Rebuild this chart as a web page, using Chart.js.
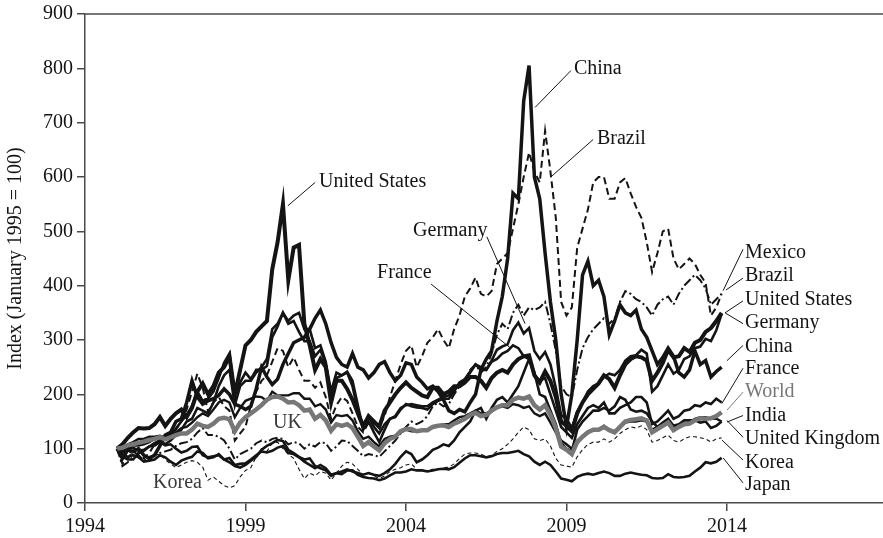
<!DOCTYPE html>
<html>
<head>
<meta charset="utf-8">
<title>Stock market indices, January 1995 = 100</title>
<script src="https://cdn.jsdelivr.net/npm/chart.js@4.4.1/dist/chart.umd.min.js"></script>
<style>
  html, body { margin: 0; padding: 0; background: #fff; }
  #wrap { width: 883px; height: 538px; }
</style>
</head>
<body>
<div id="wrap"><canvas id="index_chart" width="883" height="538"></canvas></div>
<script>
// one value every two months, Jan 1995 .. Nov 2013 (one row = one year)
const startYear = 1995;
const pointsPerYear = 6;
const xTicks = [1994, 1999, 2004, 2009, 2014];
const yTicks = [0, 100, 200, 300, 400, 500, 600, 700, 800, 900];

const world = [
  100, 102, 106, 108, 111, 113,
  116, 118, 121, 117, 121, 125,
  128, 128, 135, 146, 142, 140,
  146, 155, 157, 154, 132, 148,
  158, 165, 172, 180, 190, 195,
  196, 192, 185, 186, 180, 170,
  172, 155, 162, 152, 133, 145,
  142, 145, 138, 122, 105, 112,
  104, 97, 110, 118, 122, 132,
  136, 136, 132, 134, 134, 140,
  142, 143, 140, 146, 150, 155,
  162, 166, 160, 162, 170, 176,
  180, 180, 190, 194, 192, 196,
  180, 172, 180, 162, 138, 104,
  98, 90, 112, 122, 130, 135,
  135, 140, 134, 130, 140, 150,
  153, 154, 156, 152, 130, 136,
  142, 148, 134, 140, 145, 146,
  152, 156, 155, 156, 160, 167
];
const unitedStates = [
  100, 108, 120, 130, 138, 137,
  138, 145, 158, 142, 155, 165,
  172, 158, 175, 205, 220, 200,
  215, 240, 250, 270, 200, 245,
  290, 300, 315, 325, 335, 430,
  480, 550, 410, 470, 475, 330,
  290, 245, 265, 250, 185, 225,
  225, 210, 190, 165, 140, 160,
  150, 140, 170, 185, 200, 212,
  222, 212, 205, 198, 195, 212,
  212, 200, 205, 215, 215, 222,
  232, 232, 225, 212, 230, 240,
  245, 240, 255, 265, 270, 272,
  235, 222, 242, 225, 195, 150,
  142, 132, 165, 185, 200, 210,
  220, 235, 228, 212, 235, 255,
  265, 270, 268, 262, 225, 240,
  258, 282, 268, 270, 285, 278,
  295, 300, 315, 322, 335, 350
];
const china = [
  100, 82, 98, 95, 100, 88,
  82, 88, 105, 125, 130, 150,
  155, 185, 225, 195, 182, 188,
  192, 198, 210, 200, 182, 178,
  172, 178, 210, 250, 232, 218,
  228, 255, 275, 295, 300, 305,
  320, 340, 355, 330, 295, 268,
  255, 250, 275, 250, 245, 230,
  240, 255, 260, 240, 225, 235,
  258, 255, 232, 222, 210, 215,
  205, 190, 170, 165, 172, 168,
  185, 200, 245, 265, 280, 335,
  380, 450, 570, 560, 740, 805,
  600, 560, 460, 370, 300, 200,
  140, 200, 300, 420, 445, 400,
  410, 380, 310, 335, 365, 350,
  345, 355, 320, 305, 280, 255,
  268, 285, 270, 240, 232, 245,
  280, 255, 262, 232, 242, 250
];
const brazil = [
  100, 72, 82, 95, 88, 82,
  92, 108, 118, 122, 125, 135,
  150, 172, 205, 238, 212, 168,
  185, 195, 178, 170, 115, 128,
  140, 180, 205, 225, 235, 260,
  285, 280, 250, 268, 245, 225,
  225, 212, 222, 195, 155, 180,
  195, 188, 165, 140, 130, 148,
  148, 140, 160, 195, 225, 255,
  280, 290, 250, 270, 295, 305,
  320, 300, 285, 320, 345, 380,
  395, 415, 385, 380, 390, 440,
  450, 460, 505, 550, 600, 645,
  610, 590, 685, 610, 525, 370,
  345, 360, 470, 505, 540, 590,
  600, 600, 560, 560, 590, 598,
  570, 545, 525, 480, 425, 460,
  500, 505, 450, 430, 440, 450,
  440, 420, 405, 345, 360, 385
];
const mexico = [
  100, 68, 75, 85, 88, 78,
  85, 88, 92, 95, 98, 105,
  110, 112, 118, 130, 138, 125,
  125, 122, 115, 100, 80, 90,
  95, 100, 110, 115, 112, 118,
  120, 118, 108, 112, 110, 100,
  108, 104, 112, 110, 96, 104,
  115, 114, 105, 96, 86, 90,
  88, 85, 95, 105, 115, 128,
  140, 150, 145, 150, 160, 178,
  185, 178, 182, 200, 215, 225,
  245, 255, 240, 250, 275, 310,
  330, 320, 350, 365, 345, 360,
  355, 360, 370, 330, 280, 215,
  200, 195, 245, 285, 305, 320,
  330, 340, 330, 340, 370, 390,
  385, 375, 370, 360, 345, 365,
  375, 380, 365, 385, 400, 410,
  420, 410, 395, 365, 375, 385
];
const germany = [
  100, 95, 102, 106, 106, 108,
  112, 118, 122, 120, 126, 137,
  150, 162, 178, 205, 188, 192,
  205, 230, 258, 275, 200, 222,
  240, 228, 245, 245, 252, 305,
  325, 350, 330, 335, 315, 298,
  298, 270, 282, 255, 198, 230,
  235, 242, 225, 180, 135, 150,
  130, 112, 135, 155, 158, 172,
  182, 178, 176, 175, 172, 182,
  188, 192, 192, 205, 222, 228,
  242, 255, 250, 245, 262, 282,
  288, 292, 318, 332, 312, 322,
  280, 265, 278, 255, 212, 162,
  155, 138, 168, 185, 205, 215,
  220, 232, 238, 235, 245, 262,
  270, 272, 282, 275, 205, 215,
  235, 255, 238, 245, 265, 270,
  285, 288, 302, 298, 318, 348
];
const france = [
  100, 94, 100, 102, 96, 98,
  104, 110, 115, 108, 115, 125,
  135, 150, 155, 175, 170, 165,
  185, 215, 235, 245, 180, 215,
  225, 225, 240, 250, 265, 320,
  330, 350, 335, 345, 350, 320,
  320, 285, 290, 260, 205, 240,
  235, 240, 215, 170, 145, 160,
  140, 128, 145, 155, 160, 175,
  180, 182, 180, 178, 178, 185,
  190, 195, 198, 208, 220, 225,
  240, 255, 245, 245, 260, 265,
  275, 280, 290, 285, 270, 265,
  235, 225, 230, 200, 170, 140,
  130, 120, 145, 160, 175, 180,
  175, 185, 165, 165, 175, 180,
  185, 195, 195, 185, 145, 150,
  160, 170, 155, 160, 170, 172,
  180, 178, 185, 182, 192, 185
];
const unitedKingdom = [
  100, 101, 108, 112, 118, 118,
  122, 122, 124, 120, 126, 130,
  138, 140, 148, 158, 165, 160,
  172, 185, 190, 185, 158, 175,
  188, 192, 196, 195, 188, 205,
  198, 198, 198, 202, 202, 192,
  192, 178, 182, 172, 148, 162,
  160, 162, 152, 132, 118, 122,
  112, 104, 118, 122, 124, 130,
  135, 132, 132, 133, 133, 140,
  142, 145, 145, 152, 158, 160,
  165, 170, 165, 165, 170, 175,
  178, 175, 182, 180, 175, 178,
  165, 160, 165, 148, 130, 115,
  108, 100, 115, 122, 132, 135,
  135, 142, 135, 132, 140, 148,
  150, 150, 152, 150, 135, 140,
  145, 148, 138, 142, 146, 148,
  155, 158, 158, 155, 155, 150
];
const india = [
  100, 90, 85, 88, 84, 76,
  78, 80, 88, 84, 76, 70,
  78, 82, 85, 95, 92, 82,
  84, 90, 80, 75, 68, 65,
  70, 78, 85, 98, 105, 110,
  116, 114, 98, 92, 85, 80,
  82, 68, 64, 60, 50, 55,
  58, 62, 58, 55, 52, 55,
  52, 50, 55, 62, 72, 85,
  95, 90, 75, 80, 88, 98,
  102, 108, 105, 115, 130, 140,
  150, 170, 175, 155, 175, 190,
  195, 185, 200, 215, 240, 265,
  240, 200, 195, 170, 145, 110,
  100, 95, 135, 150, 160, 170,
  170, 175, 170, 178, 195, 190,
  172, 168, 170, 165, 150, 140,
  148, 155, 142, 145, 152, 152,
  152, 148, 150, 138, 142, 150
];
const korea = [
  100, 92, 95, 90, 92, 86,
  84, 88, 90, 80, 72, 65,
  70, 75, 78, 75, 66, 42,
  48, 40, 32, 28, 32, 48,
  60, 65, 85, 100, 95, 110,
  112, 100, 90, 82, 62, 45,
  55, 50, 58, 55, 42, 55,
  68, 75, 72, 62, 52, 55,
  50, 45, 50, 58, 62, 65,
  70, 72, 62, 58, 60, 62,
  62, 65, 66, 72, 82, 90,
  92, 92, 90, 85, 88, 95,
  100, 108, 118, 130, 140, 135,
  118, 115, 118, 105, 82, 70,
  68, 66, 85, 98, 108, 112,
  112, 118, 112, 118, 128, 135,
  140, 138, 142, 135, 112, 115,
  120, 125, 115, 112, 118, 122,
  122, 120, 118, 112, 118, 120
];
const japan = [
  100, 85, 80, 80, 92, 96,
  104, 106, 112, 106, 108, 100,
  93, 96, 103, 104, 88, 84,
  86, 88, 80, 83, 70, 72,
  73, 80, 88, 95, 93, 96,
  102, 105, 92, 90, 84, 76,
  70, 64, 70, 64, 52, 55,
  53, 60, 60, 52, 48, 46,
  45, 42, 45, 51, 56, 56,
  58, 62, 60, 60, 58, 60,
  62, 63, 62, 66, 74, 82,
  88, 88, 86, 84, 86, 90,
  92, 92, 94, 96, 90, 86,
  76, 70, 76, 70, 58, 45,
  43, 40, 48, 52, 54, 52,
  55, 58, 55, 50, 50, 54,
  56, 54, 52, 51, 46, 45,
  46, 53, 48, 47, 48, 50,
  58, 65, 75, 73, 76, 83
];

const dates = world.map((v, i) => startYear + i / pointsPerYear);

const ink = '#141414';
const axisColor = '#4a4a4a';
const worldGray = '#777777';
const serif = '"Liberation Serif", "Times New Roman", serif';

// labels drawn on the plot: text position and leader line, in data units
const callouts = [
  { text: 'United States', at: [2001.29, 592], from: [2001.17, 590], to: [2000.32, 547] },
  { text: 'China', at: [2009.23, 800], from: [2009.14, 796], to: [2008.02, 728] },
  { text: 'Brazil', at: [2009.95, 671], from: [2009.83, 669], to: [2008.55, 602] },
  { text: 'Germany', at: [2004.22, 501], from: [2006.52, 490], to: [2007.71, 330] },
  { text: 'France', at: [2003.10, 424], from: [2004.78, 403], to: [2007.24, 286] },
  { text: 'UK', at: [1999.86, 147], color: '#3a3a3a' },
  { text: 'Korea', at: [1996.12, 37], color: '#3a3a3a' },
  { text: 'Mexico', at: [2014.56, 460], from: [2014.5, 467], to: [2013.88, 391] },
  { text: 'Brazil', at: [2014.56, 418], from: [2014.5, 414], to: [2013.97, 392] },
  { text: 'United States', at: [2014.56, 374], from: [2014.5, 372], to: [2013.94, 350] },
  { text: 'Germany', at: [2014.56, 332], from: [2014.5, 330], to: [2013.94, 350] },
  { text: 'China', at: [2014.56, 288], from: [2014.5, 290], to: [2014.0, 262] },
  { text: 'France', at: [2014.56, 248], from: [2014.5, 248], to: [2013.84, 183] },
  { text: 'World', at: [2014.56, 204], from: [2014.5, 204], to: [2014.0, 171], color: worldGray },
  { text: 'India', at: [2014.56, 161], from: [2014.5, 161], to: [2014.0, 149] },
  { text: 'United Kingdom', at: [2014.56, 119], from: [2014.5, 121], to: [2014.0, 152] },
  { text: 'Korea', at: [2014.56, 75], from: [2014.5, 79], to: [2013.84, 116] },
  { text: 'Japan', at: [2014.56, 33], from: [2014.5, 37], to: [2013.88, 83] }
];

function series(label, values, color, width, dash) {
  return {
    label: label,
    data: values.map((v, i) => ({ x: dates[i], y: v })),
    borderColor: color,
    borderWidth: width,
    borderDash: dash || [],
    pointRadius: 0,
    fill: false,
    tension: 0
  };
}

const calloutPlugin = {
  id: 'callouts',
  afterDraw(chart) {
    const ctx = chart.ctx;
    const xs = chart.scales.x, ys = chart.scales.y;
    const area = chart.chartArea;
    ctx.save();
    // frame line along the top
    ctx.strokeStyle = axisColor;
    ctx.lineWidth = 1.5;
    ctx.beginPath();
    ctx.moveTo(area.left, area.top);
    ctx.lineTo(area.right, area.top);
    ctx.stroke();

    ctx.font = '20px ' + serif;
    ctx.textAlign = 'left';
    ctx.textBaseline = 'middle';
    callouts.forEach(function (c) {
      const color = c.color || ink;
      if (c.from) {
        ctx.strokeStyle = color;
        ctx.lineWidth = 1;
        ctx.beginPath();
        ctx.moveTo(xs.getPixelForValue(c.from[0]), ys.getPixelForValue(c.from[1]));
        ctx.lineTo(xs.getPixelForValue(c.to[0]), ys.getPixelForValue(c.to[1]));
        ctx.stroke();
      }
      ctx.fillStyle = color;
      ctx.fillText(c.text, xs.getPixelForValue(c.at[0]), ys.getPixelForValue(c.at[1]));
    });
    ctx.restore();
  }
};

let ctx = document.getElementById('index_chart').getContext('2d');
const indexChart = new Chart(ctx, {
  type: 'line',
  data: {
    datasets: [
      series('World', world, worldGray, 4.5),
      series('United States', unitedStates, ink, 4),
      series('China', china, ink, 3.5),
      series('Germany', germany, ink, 2.6),
      series('France', france, ink, 2.6),
      series('United Kingdom', unitedKingdom, ink, 2.4),
      series('India', india, ink, 2.6),
      series('Japan', japan, ink, 2.6),
      series('Brazil', brazil, ink, 2, [7, 4]),
      series('Mexico', mexico, ink, 2, [9, 3, 2, 3]),
      series('Korea', korea, ink, 1.1, [4, 3])
    ]
  },
  options: {
    responsive: false,
    animation: false,
    devicePixelRatio: 1,
    layout: { padding: { top: 10, right: 0, bottom: 0, left: 0 } },
    plugins: {
      legend: { display: false },
      tooltip: { enabled: false }
    },
    scales: {
      x: {
        type: 'linear',
        min: 1994,
        max: 2018.86,
        afterBuildTicks: function (scale) {
          scale.ticks = xTicks.map(v => ({ value: v }));
        },
        afterFit: function (scale) { scale.height = 35; },
        grid: { drawOnChartArea: false, drawTicks: true, tickLength: 8, color: axisColor, lineWidth: 1.5 },
        border: { display: true, color: axisColor, width: 1.5 },
        ticks: {
          padding: 6,
          color: ink,
          font: { family: serif, size: 20, lineHeight: 1 },
          maxRotation: 0,
          callback: v => String(v)
        }
      },
      y: {
        min: 0,
        max: 900,
        afterBuildTicks: function (scale) {
          scale.ticks = yTicks.map(v => ({ value: v }));
        },
        afterFit: function (scale) { scale.width = 85; },
        grid: { drawOnChartArea: false, drawTicks: true, tickLength: 8, color: axisColor, lineWidth: 1.5 },
        border: { display: true, color: axisColor, width: 1.5 },
        ticks: {
          padding: 4,
          color: ink,
          font: { family: serif, size: 20, lineHeight: 1 },
          callback: v => String(v)
        },
        title: {
          display: true,
          text: 'Index (January 1995 = 100)',
          color: ink,
          font: { family: serif, size: 20 },
          padding: { top: 4, bottom: 0 }
        }
      }
    }
  },
  plugins: [calloutPlugin]
});
</script>
</body>
</html>
